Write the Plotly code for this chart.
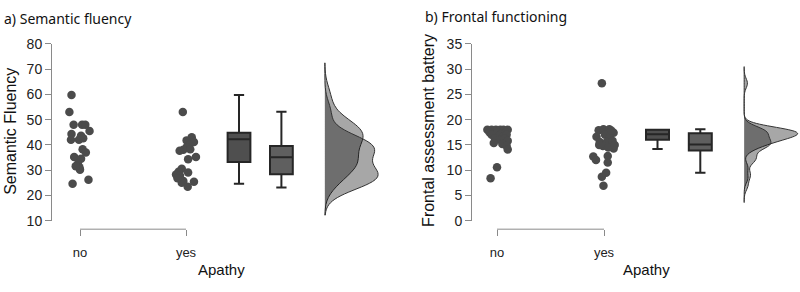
import plotly.graph_objects as go

W, H = 800, 292

# ---------------- data ----------------
groups = ["no", "yes"]

# Panel a: Semantic fluency (x offsets are the horizontal jitter)
sf_no_val = [59.8, 53.0, 48.0, 48.0, 48.0, 45.5, 44.3, 42.0, 42.0, 42.6, 43.6, 38.3, 37.0,
             35.2, 34.5, 32.4, 31.2, 30.2, 31.6, 26.2, 24.6]
sf_no_jit = [-0.08, -0.10, -0.06, 0.02, 0.05, 0.09, -0.08, -0.085, -0.01, 0.03, 0.01, 0.025, 0.055,
             -0.055, 0.01, -0.02, -0.005, 0.0, -0.04, 0.08, -0.07]
sf_yes_val = [53.05, 43.06, 41.8, 41.2, 40.0, 39.1, 38.1, 37.7, 38.3, 34.3, 35.2, 30.6, 29.4,
              28.3, 27.9, 29.1, 25.7, 25.4, 25.0, 23.4, 26.8]
sf_yes_jit = [-0.03, 0.054, 0.006, 0.075, 0.03, 0.006, -0.025, -0.06, 0.04, 0.02, 0.094, -0.04, -0.07,
              -0.094, -0.057, 0.02, -0.025, 0.075, -0.04, 0.016, -0.08]
# box statistics [no, yes]
sf_q1 = [33.2, 28.4]
sf_med = [42.2, 35.1]
sf_q3 = [44.8, 39.6]
sf_lo = [24.6, 23.1]
sf_hi = [59.8, 53.1]

# Panel b: Frontal assessment battery
fab_no_val = [18, 18, 18, 18, 18, 18, 17.5, 17.3, 17.6, 17.2, 17.4, 17.0, 16.8, 16.6, 17.0,
              16.3, 16.0, 16.2, 15.8, 15.4, 15.2, 14.8, 14.1, 10.6, 8.4]
fab_no_jit = [-0.09, -0.05, -0.01, 0.03, 0.06, 0.10, -0.07, -0.03, 0.0, 0.04, 0.08, -0.05, 0.02, 0.06, 0.09,
              -0.02, 0.03, 0.07, 0.10, -0.03, 0.05, 0.09, 0.10, 0.0, -0.06]
fab_yes_val = [27.2, 17.9, 18.1, 18.1, 17.4, 16.6, 17.0, 16.4, 15.6, 15.6, 15.8, 14.8, 14.3, 14.5,
               15.0, 12.7, 12.0, 12.8, 11.5, 9.5, 8.7, 6.9, 17.8, 15.0]
fab_yes_jit = [-0.02, -0.05, -0.005, 0.05, 0.09, -0.07, 0.01, 0.056, -0.04, 0.025, 0.08, -0.01, 0.09, 0.04,
               -0.045, -0.10, -0.075, 0.035, 0.035, 0.02, -0.02, -0.005, 0.07, 0.10]
fab_q1 = [16.0, 13.9]
fab_med = [17.1, 15.1]
fab_q3 = [18.0, 17.3]
fab_lo = [14.2, 9.5]
fab_hi = [18.0, 18.1]

# ---------------- geometry helpers ----------------
def px_x(p):
    return p / W

def px_y(p):
    return 1 - p / H

DOT = "#4b4b4b"
AX = "#8a8a8a"
BOXFILL = ["#4f4f4f", "#5f5f5f"]
VFILL = "rgba(10,10,10,0.36)"
TICKFONT = dict(family="Liberation Sans", size=14, color="#222")

fig = go.Figure()

panels = [
    dict(xa="x", ya="y", no_v=sf_no_val, no_j=sf_no_jit, yes_v=sf_yes_val, yes_j=sf_yes_jit,
         q1=sf_q1, med=sf_med, q3=sf_q3, lo=sf_lo, hi=sf_hi, bw=4.3, span=[12.2, 72.5],
         vwidth=[0.72, 1.0]),
    dict(xa="x2", ya="y2", no_v=fab_no_val, no_j=fab_no_jit, yes_v=fab_yes_val, yes_j=fab_yes_jit,
         q1=fab_q1, med=fab_med, q3=fab_q3, lo=fab_lo, hi=fab_hi, bw=0.95, span=[3.6, 30.5],
         vwidth=[1.0, 0.5]),
]

box_pos = [1.5, 1.9]
violin_pos = 2.31

for k, P in enumerate(panels):
    # jittered points
    for gi, (vals, jit) in enumerate([(P["no_v"], P["no_j"]), (P["yes_v"], P["yes_j"])]):
        fig.add_trace(go.Scatter(
            x=[gi + j for j in jit], y=vals, mode="markers",
            marker=dict(size=8.5, color=DOT, line=dict(width=0)),
            xaxis=P["xa"], yaxis=P["ya"], showlegend=False, hoverinfo="y"))
    # boxes
    for gi in range(2):
        fig.add_trace(go.Box(
            x=[box_pos[gi]], q1=[P["q1"][gi]], median=[P["med"][gi]], q3=[P["q3"][gi]],
            lowerfence=[P["lo"][gi]], upperfence=[P["hi"][gi]],
            width=0.215, whiskerwidth=0.45, fillcolor=BOXFILL[gi],
            line=dict(color="#262626", width=2), boxpoints=False,
            xaxis=P["xa"], yaxis=P["ya"], showlegend=False))
    # half violins (densities)
    for gi, vals in enumerate([P["no_v"], P["yes_v"]]):
        fig.add_trace(go.Violin(
            y=vals, x0=violin_pos, side="positive", width=P["vwidth"][gi],
            scalemode="width", scalegroup="g%d_%d" % (k, gi),
            bandwidth=P["bw"], spanmode="manual", span=P["span"],
            points=False, fillcolor=VFILL, line=dict(color="#333", width=1),
            name=groups[gi], xaxis=P["xa"], yaxis=P["ya"], showlegend=False,
            hoverinfo="skip"))

ydom = [px_y(225), px_y(38)]
xaxis_common = dict(type="linear", tickmode="array", tickvals=[0, 1], ticktext=groups,
                    ticks="outside", ticklen=6, tickcolor=AX, tickwidth=1,
                    showline=False, showgrid=False, zeroline=False,
                    anchor="free", position=px_y(234), tickfont=dict(TICKFONT, size=13),
                    ticklabelstandoff=5)
yaxis_common = dict(ticks="outside", ticklen=6, tickcolor=AX, tickwidth=1,
                    showline=True, linecolor=AX, linewidth=1,
                    showgrid=False, zeroline=False, tickfont=TICKFONT, domain=ydom)

fig.update_layout(
    width=W, height=H, margin=dict(l=0, r=0, t=0, b=0),
    paper_bgcolor="white", plot_bgcolor="white",
    violinmode="overlay", boxmode="overlay",
    xaxis=dict(xaxis_common, domain=[px_x(52), px_x(390)],
               range=[(52 - 80) / 106, (390 - 80) / 106]),
    xaxis2=dict(xaxis_common, domain=[px_x(472), 1.0],
                range=[(472 - 497) / 107, (800 - 497) / 107]),
    yaxis=dict(yaxis_common, range=[10, 80], tickvals=[10, 20, 30, 40, 50, 60, 70, 80], anchor="x"),
    yaxis2=dict(yaxis_common, range=[0, 35], tickvals=[0, 5, 10, 15, 20, 25, 30, 35], anchor="x2"),
)

# x axis brackets between the two group positions
for xr in ["x", "x2"]:
    fig.add_shape(type="line", xref=xr, yref="paper", x0=0, x1=1, y0=px_y(234), y1=px_y(234),
                  line=dict(color=AX, width=1))

TITLEFONT = dict(family="Noto Sans", size=14, color="#111")
AXTFONT = dict(family="Liberation Sans", size=16, color="#111")
ann = [
    dict(text="a) Semantic fluency", x=px_x(2), y=px_y(11), xanchor="left", yanchor="middle", font=TITLEFONT),
    dict(text="b) Frontal functioning", x=px_x(423), y=px_y(9), xanchor="left", yanchor="middle", font=TITLEFONT),
    dict(text="Semantic Fluency", x=px_x(11), y=px_y(131), textangle=-90, xanchor="center", yanchor="middle", font=AXTFONT),
    dict(text="Frontal assessment battery", x=px_x(429), y=px_y(130), textangle=-90, xanchor="center", yanchor="middle", font=AXTFONT),
    dict(text="Apathy", x=px_x(221), y=px_y(277), xanchor="center", yanchor="middle", font=dict(AXTFONT, size=15)),
    dict(text="Apathy", x=px_x(646), y=px_y(277), xanchor="center", yanchor="middle", font=dict(AXTFONT, size=15)),
]
for a in ann:
    fig.add_annotation(xref="paper", yref="paper", showarrow=False, **a)

fig.write_html("out.html")
